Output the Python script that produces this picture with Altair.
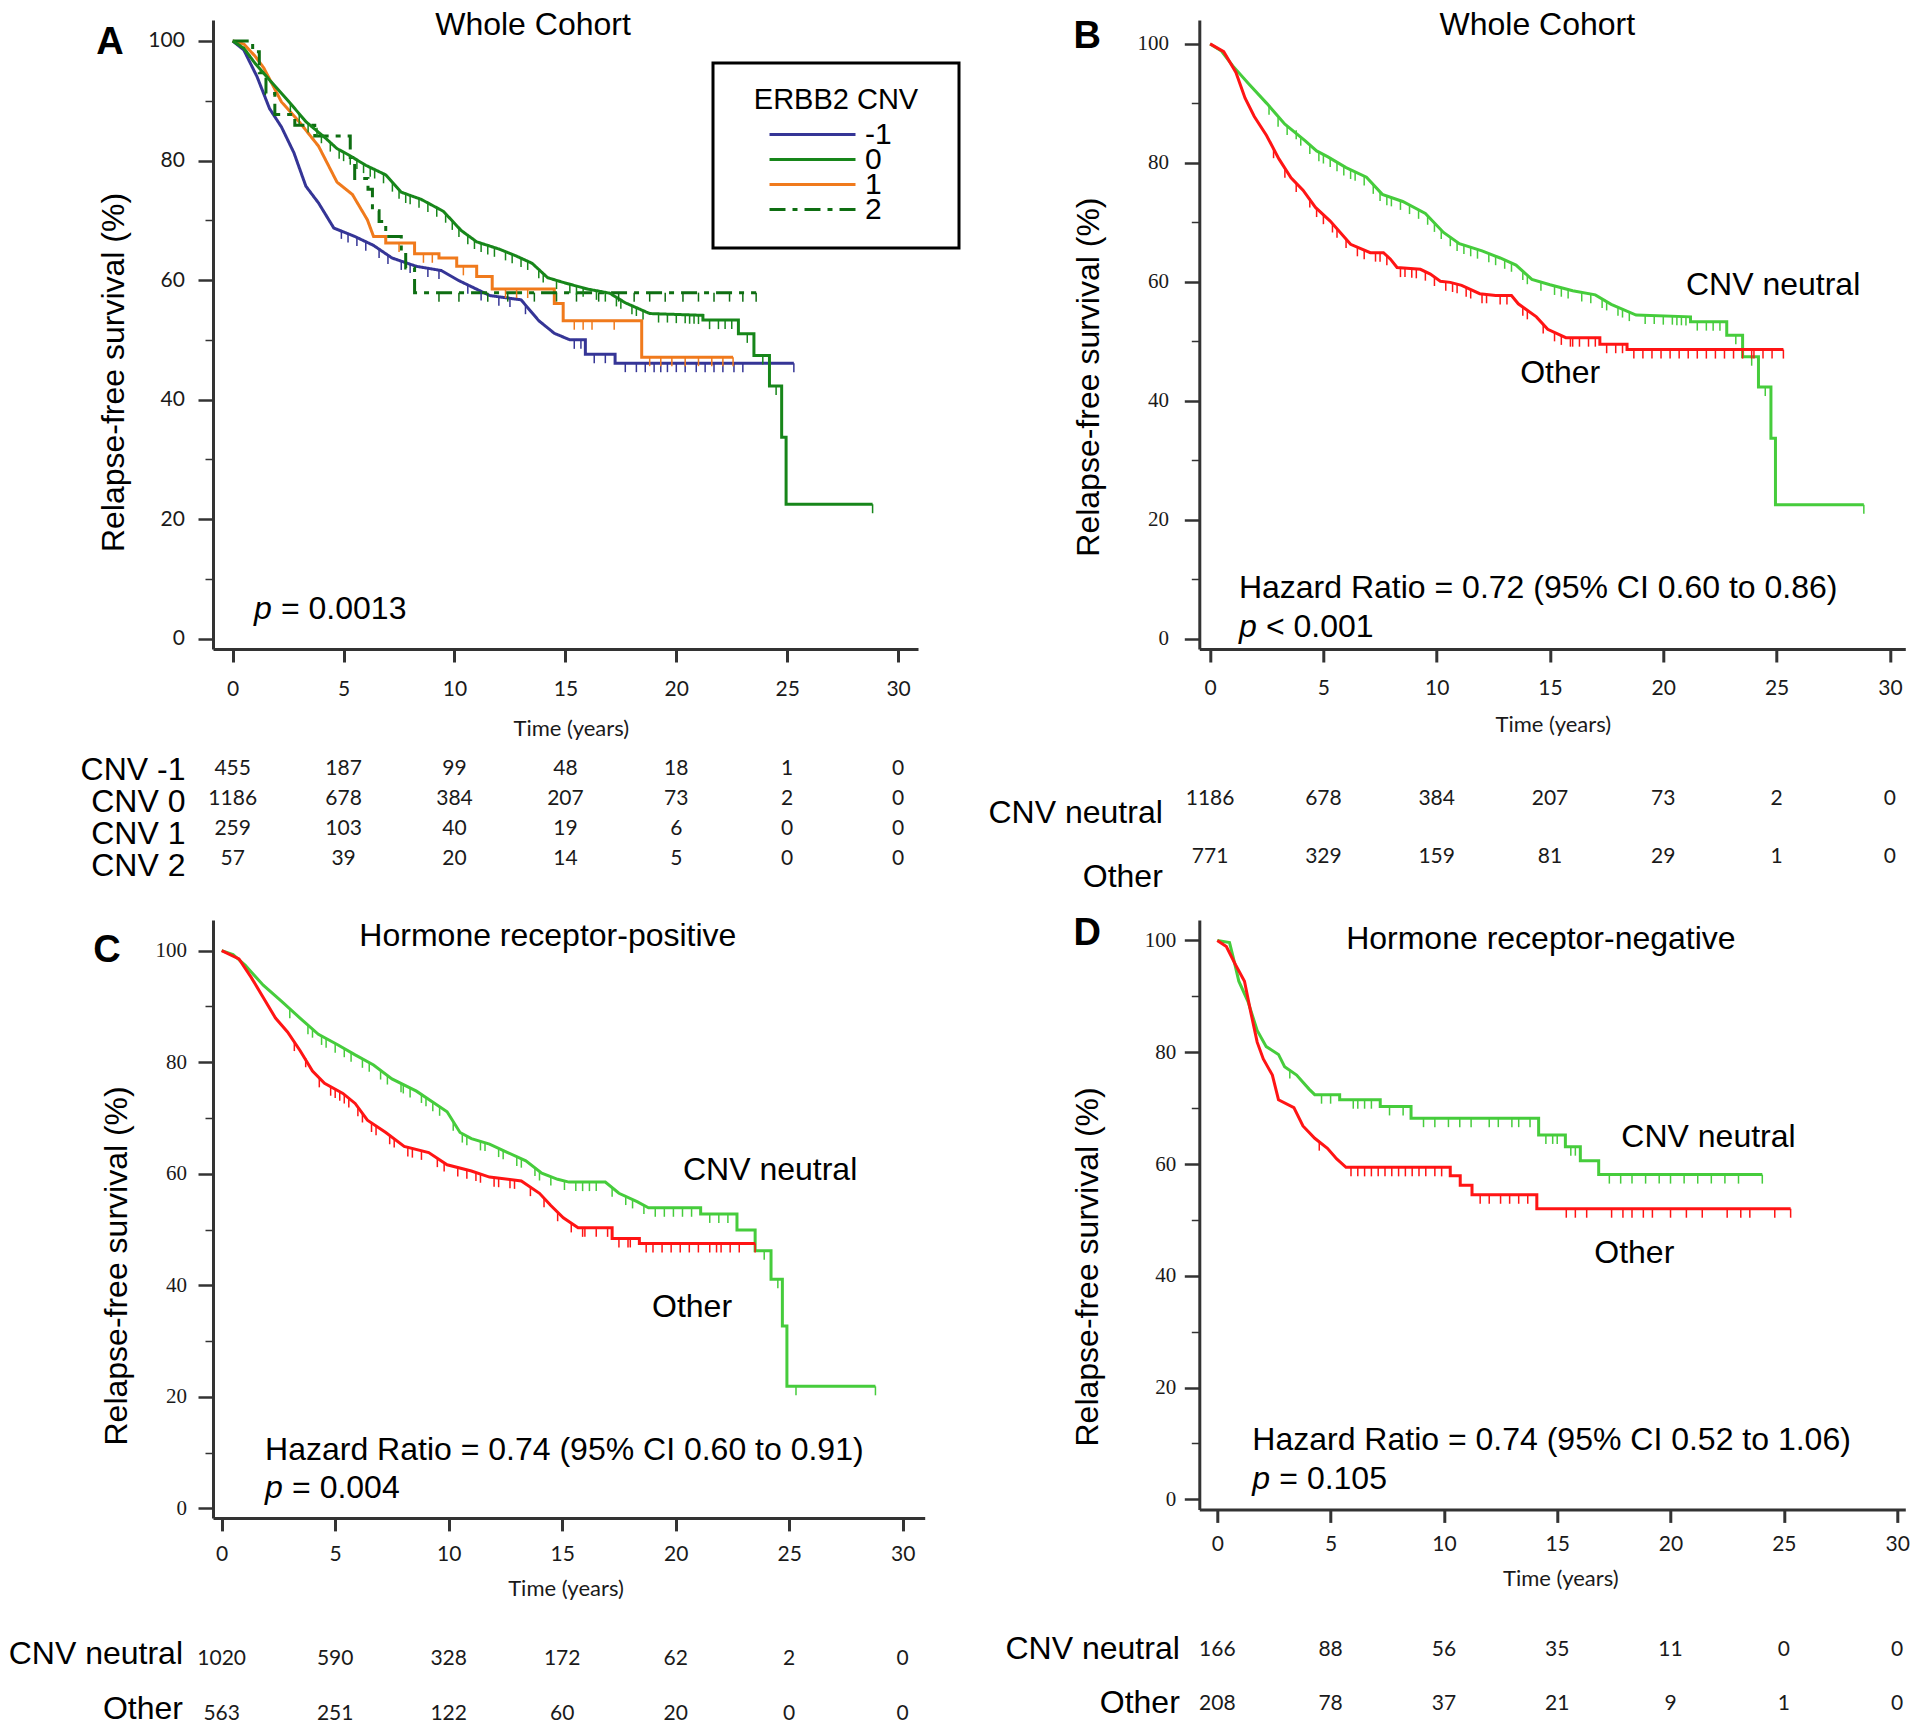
import altair as alt
import pandas as pd

SANS = "Liberation Sans, Arial, sans-serif"
NUM = "Lato, Liberation Sans, sans-serif"
SERIF = "Liberation Serif, Times New Roman, serif"
BLANK = "\u2800"

# ---------------- survival curve vertices (time in years, survival %) ----------------
W_NEU_T = [0, 0.5, 1.0, 1.7, 2.5, 3.3, 4.2, 4.7, 5.2, 6.0, 6.9, 7.6, 8.5, 9.5, 10.3, 11.0, 12.0, 12.8,
           13.5, 14.2, 15.0, 16.0, 17.0, 17.7, 18.8, 21.2, 21.2, 22.8, 22.8, 23.5, 23.5, 24.2, 24.2,
           24.75, 24.75, 24.95, 24.95, 28.85]
W_NEU_S = [100, 98.8, 96.3, 93.3, 90.0, 86.5, 83.7, 82.0, 81.0, 79.2, 77.6, 74.7, 73.5, 71.5, 68.3, 66.4,
           65.2, 64.0, 62.8, 60.4, 59.5, 58.5, 57.8, 56.2, 54.4, 54.1, 53.3, 53.3, 51.0, 51.0, 47.4, 47.4,
           42.3, 42.3, 33.7, 33.7, 22.5, 22.5]
W_NEG1_T = [0, 0.5, 1.1, 1.66, 2.2, 2.76, 3.3, 3.87, 4.56, 5.5, 6.35, 7.18, 8.28, 9.4, 10.2, 11.6, 13.0,
            13.8, 14.5, 15.2, 15.9, 15.9, 17.24, 17.24, 25.3]
W_NEG1_S = [100, 98.5, 94.0, 88.7, 85.6, 81.3, 75.7, 72.9, 68.7, 67.3, 65.8, 63.7, 62.3, 61.6, 59.9, 57.4,
            56.7, 53.2, 51.1, 50.0, 50.0, 47.6, 47.6, 46.1, 46.1]
W_AMP1_T = [0, 0.5, 1.0, 1.4, 2.2, 3.04, 3.87, 4.7, 5.4, 6.07, 6.35, 6.9, 6.9, 8.2, 8.2, 9.3, 9.3, 10.1,
            10.1, 11.0, 11.0, 11.7, 11.7, 14.5, 14.5, 14.9, 14.9, 18.44, 18.44, 22.56]
W_AMP1_S = [100, 99.5, 97.5, 95.5, 89.8, 86.3, 82.4, 76.4, 74.3, 70.1, 67.3, 67.3, 66.2, 66.2, 64.4, 64.4,
            63.7, 63.7, 62.3, 62.3, 60.6, 60.6, 58.5, 58.5, 56.1, 56.1, 53.2, 53.2, 47.1, 47.1]
W_AMP2_T = [0, 0.9, 0.9, 1.2, 1.2, 1.5, 1.5, 1.9, 1.9, 2.8, 2.8, 3.7, 3.7, 5.3, 5.3, 5.5, 5.5, 6.1, 6.1,
            6.3, 6.3, 6.6, 6.6, 6.9, 6.9, 7.6, 7.6, 7.8, 7.8, 8.2, 8.2, 23.6]
W_AMP2_S = [100, 100, 98.2, 98.2, 94.7, 94.7, 91.2, 91.2, 87.7, 87.7, 85.9, 85.9, 84.1, 84.1, 80.5, 80.5,
            77.0, 77.0, 75.2, 75.2, 71.6, 71.6, 69.8, 69.8, 67.3, 67.3, 64.8, 64.8, 62.0, 62.0, 57.9, 57.9]
W_OTH_T = [0, 0.6, 1.14, 1.54, 1.95, 2.49, 3.03, 3.57, 4.1, 4.65, 5.3, 6.2, 7.07, 7.65, 7.96, 8.25, 9.28,
           9.72, 10.16, 10.6, 11.1, 11.9, 12.6, 13.3, 13.6, 14.4, 14.9, 15.7, 17.2, 17.2, 18.4, 18.4, 25.3]
W_OTH_S = [100, 98.7, 95.2, 90.9, 87.8, 84.6, 80.7, 77.5, 75.4, 72.5, 70.2, 66.3, 64.9, 64.9, 63.8, 62.4,
           62.1, 61.3, 60.1, 59.9, 59.4, 58.0, 57.7, 57.7, 56.3, 54.1, 52.0, 50.6, 50.6, 49.5, 49.5, 48.6, 48.6]
P_NEU_T = [0, 0.5, 1.03, 1.83, 2.64, 3.45, 4.26, 5.07, 5.88, 6.69, 7.5, 8.58, 9.39, 9.93, 10.5, 11.0, 11.8,
           12.6, 13.4, 14.1, 14.8, 15.3, 16.9, 17.5, 18.3, 18.8, 21.1, 21.1, 22.7, 22.7, 23.5, 23.5, 24.2,
           24.2, 24.7, 24.7, 24.9, 24.9, 28.8]
P_NEU_S = [100, 99.3, 97.4, 93.8, 90.9, 87.9, 85.0, 83.2, 81.3, 79.5, 77.0, 74.8, 72.6, 71.1, 67.4, 66.3,
           65.3, 63.8, 62.3, 60.1, 59.0, 58.5, 58.5, 56.5, 55.0, 53.9, 53.9, 52.8, 52.8, 49.9, 49.9, 46.2,
           46.2, 41.1, 41.1, 32.7, 32.7, 21.9, 21.9]
P_OTH_T = [0, 0.76, 1.3, 1.83, 2.37, 2.9, 3.45, 4.0, 4.53, 5.34, 5.88, 6.42, 7.23, 8.04, 9.12, 9.93, 11.0,
           11.8, 13.2, 14.0, 14.5, 15.05, 15.7, 17.2, 17.2, 18.4, 18.4, 23.5]
P_OTH_S = [100, 98.5, 95.2, 91.6, 87.9, 85.4, 82.1, 78.4, 76.2, 74.4, 72.6, 69.6, 67.4, 64.9, 63.8, 61.6,
           60.5, 59.4, 58.7, 56.5, 54.3, 52.1, 50.3, 50.3, 48.4, 48.4, 47.5, 47.5]
N_NEU_T = [0, 0.54, 0.7, 0.95, 1.35, 1.76, 2.16, 2.7, 2.97, 3.5, 4.05, 4.3, 5.4, 5.4, 7.19, 7.19, 8.55,
           8.55, 14.18, 14.18, 15.36, 15.36, 16.02, 16.02, 16.83, 16.83, 24.05]
N_NEU_S = [100, 99.6, 97.0, 92.7, 89.1, 83.9, 81.0, 79.6, 77.4, 75.9, 73.4, 72.4, 72.4, 71.5, 71.5, 70.3,
           70.3, 68.2, 68.2, 65.2, 65.2, 63.1, 63.1, 60.6, 60.6, 58.1, 58.1]
N_OTH_T = [0, 0.4, 0.81, 1.2, 1.49, 1.76, 2.03, 2.43, 2.7, 3.38, 3.78, 4.3, 4.86, 5.27, 5.68, 10.28, 10.28,
           10.72, 10.72, 11.24, 11.24, 14.1, 14.1, 25.3]
N_OTH_S = [100, 98.9, 95.6, 92.7, 86.9, 81.8, 78.8, 75.9, 71.5, 70.1, 66.8, 64.6, 62.8, 60.9, 59.4, 59.4,
           57.9, 57.9, 56.2, 56.2, 54.5, 54.5, 52.0, 52.0]

# ---------------- censoring marks (time, survival %) ----------------
CW_NEU_T = [2.6, 3.0, 3.4, 3.8, 4.0, 4.4, 4.8, 5.0, 5.3, 5.6, 5.9, 6.2, 6.4, 6.8, 7.2, 7.5, 7.8, 8.0, 8.4,
            8.8, 9.2, 9.6, 9.9, 10.2, 10.6, 10.9, 11.2, 11.5, 11.8, 12.3, 12.6, 13.0, 13.3, 13.8, 14.0,
            14.6, 15.2, 15.5, 15.8, 16.4, 16.8, 17.3, 17.5, 18.0, 18.2, 18.5, 19.2, 19.6, 20.0, 20.4, 20.6,
            20.8, 21.0, 21.5, 21.9, 22.2, 22.5, 23.2, 23.9, 24.5, 28.85]
CW_NEU_S = [89.6, 87.6, 86.2, 85.5, 84.4, 83.0, 81.8, 81.4, 80.8, 80.1, 79.4, 78.8, 78.5, 77.7, 76.3, 75.1,
            74.4, 74.2, 73.6, 72.9, 72.1, 71.1, 69.9, 68.7, 67.5, 66.7, 66.2, 65.8, 65.4, 64.8, 64.3, 63.7,
            63.2, 61.8, 61.1, 60.0, 59.3, 59.0, 58.7, 58.2, 57.9, 57.1, 56.7, 55.8, 55.5, 54.9, 54.4, 54.4,
            54.3, 54.3, 54.2, 54.2, 54.15, 53.3, 53.3, 53.3, 53.3, 51.0, 47.4, 42.3, 22.5]
CW_NEG1_T = [4.9, 5.2, 5.6, 6.0, 6.6, 7.0, 7.6, 8.0, 8.8, 9.3, 10.6, 11.2, 12.0, 12.5, 13.2, 15.4, 15.7,
             16.3, 16.8, 17.7, 18.2, 18.6, 19.0, 19.3, 19.6, 20.0, 20.4, 20.9, 21.3, 21.7, 22.1, 22.6, 23.0,
             25.3]
CW_NEG1_S = [68.4, 67.8, 67.2, 66.4, 65.2, 64.2, 63.2, 62.7, 62.0, 61.7, 59.2, 58.1, 57.2, 57.0, 55.8, 50.0,
             50.0, 47.6, 47.6, 46.1, 46.1, 46.1, 46.1, 46.1, 46.1, 46.1, 46.1, 46.1, 46.1, 46.1, 46.1, 46.1,
             46.1, 46.1]
CW_AMP1_T = [7.5, 8.6, 9.0, 10.4, 12.3, 12.8, 13.3, 15.4, 15.8, 16.2, 17.2, 18.8, 19.3, 19.8, 20.4, 21.0,
             21.6, 22.1, 22.56]
CW_AMP1_S = [66.2, 64.4, 64.4, 62.3, 58.5, 58.5, 58.5, 53.2, 53.2, 53.2, 53.2, 47.1, 47.1, 47.1, 47.1, 47.1,
             47.1, 47.1, 47.1]
CW_AMP2_T = [9.3, 10.2, 11.5, 12.4, 13.6, 14.6, 15.5, 16.5, 17.4, 18.1, 18.8, 19.5, 20.3, 21.0, 21.7, 22.4,
             23.0, 23.6]
CW_AMP2_S = [57.9] * 18
CW_OTH_T = [2.8, 3.3, 3.8, 4.4, 4.7, 5.0, 5.4, 5.6, 6.0, 6.5, 6.8, 7.3, 7.5, 7.8, 8.4, 8.6, 8.9, 9.1, 9.5,
            9.9, 10.4, 10.7, 10.9, 11.3, 11.5, 12.0, 12.2, 12.8, 13.1, 13.8, 14.0, 14.7, 15.2, 15.5, 15.9,
            16.0, 16.3, 16.7, 17.0, 17.5, 17.9, 18.2, 18.7, 19.1, 19.5, 19.9, 20.3, 20.7, 21.1, 21.5, 21.9,
            22.3, 22.7, 23.1, 23.5, 23.9, 24.0, 24.4, 24.8, 25.3]
CW_OTH_S = [82.3, 79.0, 76.6, 74.0, 72.4, 71.2, 69.8, 68.9, 67.2, 65.8, 65.3, 64.9, 64.9, 64.3, 62.3, 62.3,
            62.2, 62.1, 61.7, 60.8, 60.0, 59.8, 59.6, 59.0, 58.7, 57.9, 57.9, 57.7, 57.7, 55.8, 55.2, 52.8,
            51.5, 50.9, 50.6, 50.6, 50.6, 50.6, 50.6, 49.5, 49.5, 49.5, 48.6, 48.6, 48.6, 48.6, 48.6, 48.6,
            48.6, 48.6, 48.6, 48.6, 48.6, 48.6, 48.6, 48.6, 48.6, 48.6, 48.6, 48.6]
CP_NEU_T = [3.0, 3.8, 4.0, 4.4, 4.6, 5.0, 5.4, 5.7, 6.2, 6.5, 7.0, 7.3, 7.9, 8.0, 8.3, 8.8, 9.0, 9.3, 9.6,
            10.2, 10.6, 10.8, 11.4, 11.6, 12.2, 12.4, 13.0, 13.2, 13.8, 14.0, 14.5, 15.1, 15.6, 15.9, 16.2,
            16.5, 17.2, 17.8, 18.1, 18.6, 19.1, 19.5, 19.9, 20.3, 20.7, 21.5, 21.9, 22.3, 23.9, 24.5, 25.3,
            28.8]
CP_NEU_S = [89.5, 86.6, 86.0, 84.7, 84.2, 83.3, 82.5, 81.7, 80.6, 79.9, 78.5, 77.6, 76.2, 76.0, 75.3, 74.3,
            73.7, 72.8, 72.0, 69.3, 67.2, 66.7, 65.8, 65.7, 64.6, 64.2, 63.0, 62.7, 61.2, 60.4, 59.5, 58.7,
            58.5, 58.5, 58.5, 58.5, 57.5, 56.0, 55.4, 54.4, 53.9, 53.9, 53.9, 53.9, 53.9, 52.8, 52.8, 52.8,
            46.2, 41.1, 21.9, 21.9]
CP_OTH_T = [3.2, 3.7, 4.3, 4.8, 5.0, 5.2, 5.4, 5.6, 6.0, 6.2, 6.6, 6.8, 7.4, 7.6, 8.2, 8.4, 8.8, 9.5, 9.8,
            10.4, 10.8, 11.2, 11.4, 12.0, 12.2, 12.7, 12.9, 13.6, 14.2, 14.8, 15.4, 15.9, 16.0, 16.5, 17.0,
            17.5, 17.9, 18.0, 18.7, 19.0, 19.4, 19.8, 20.2, 20.6, 21.0, 21.5, 21.8, 22.0, 22.4, 22.8, 23.5]
CP_OTH_S = [83.6, 80.7, 77.1, 75.6, 75.2, 74.7, 74.2, 73.5, 71.9, 70.8, 69.1, 68.5, 66.9, 66.3, 64.7, 64.5,
            64.1, 62.8, 62.0, 61.1, 60.7, 60.3, 60.0, 59.3, 59.2, 59.0, 58.9, 57.6, 55.6, 53.1, 51.1, 50.3,
            50.3, 50.3, 50.3, 48.4, 48.4, 48.4, 47.5, 47.5, 47.5, 47.5, 47.5, 47.5, 47.5, 47.5, 47.5, 47.5,
            47.5, 47.5, 47.5]
CN_NEU_T = [3.2, 4.6, 5.0, 6.0, 6.2, 6.5, 6.8, 7.6, 8.2, 9.1, 9.6, 10.2, 10.7, 11.2, 12.0, 12.4, 13.0, 13.3,
            13.8, 14.5, 14.8, 15.0, 15.6, 15.8, 17.3, 17.8, 18.3, 18.9, 19.5, 20.0, 20.6, 21.2, 21.8, 22.4,
            23.0, 24.05]
CN_NEU_S = [76.9, 72.4, 72.4, 71.5, 71.5, 71.5, 71.5, 70.3, 70.3, 68.2, 68.2, 68.2, 68.2, 68.2, 68.2, 68.2,
            68.2, 68.2, 68.2, 65.2, 65.2, 65.2, 63.1, 63.1, 58.1, 58.1, 58.1, 58.1, 58.1, 58.1, 58.1, 58.1,
            58.1, 58.1, 58.1, 58.1]
CN_OTH_T = [4.5, 5.9, 6.2, 6.5, 6.8, 7.1, 7.4, 7.7, 8.0, 8.3, 8.6, 8.9, 9.2, 9.6, 9.9, 11.6, 12.0, 12.5,
            12.9, 13.3, 13.7, 15.4, 15.8, 16.3, 17.4, 17.9, 18.3, 18.8, 19.2, 20.0, 20.7, 21.4, 22.5, 23.1,
            23.5, 24.6, 25.3]
CN_OTH_S = [64.0] + [59.4] * 14 + [54.5] * 6 + [52.0] * 16

# ---------------- numbers at risk ----------------
RISK_T = [0, 5, 10, 15, 20, 25, 30]
A_ROWS = ["CNV -1", "CNV 0", "CNV 1", "CNV 2"]
A_RISK = [[455, 187, 99, 48, 18, 1, 0], [1186, 678, 384, 207, 73, 2, 0],
          [259, 103, 40, 19, 6, 0, 0], [57, 39, 20, 14, 5, 0, 0]]
HR_ROWS = ["CNV neutral", "Other"]
B_RISK = [[1186, 678, 384, 207, 73, 2, 0], [771, 329, 159, 81, 29, 1, 0]]
C_RISK = [[1020, 590, 328, 172, 62, 2, 0], [563, 251, 122, 60, 20, 0, 0]]
D_RISK = [[166, 88, 56, 35, 11, 0, 0], [208, 78, 37, 21, 9, 1, 0]]

A_GROUPS = ["-1", "0", "1", "2"]
A_COLORS = ["#353596", "#17861a", "#f07a1c", "#0e6e12"]
A_DASH = [[1, 0], [1, 0], [1, 0], [16, 7, 5, 7]]
HR_COLORS = ["#46cc3c", "#ff1414"]

TICKS_X = [0, 5, 10, 15, 20, 25, 30]
TICKS_Y = list(range(0, 101, 10))


def curve_df(curves):
    rows = []
    for g, ts, ss in curves:
        for i, (t, s) in enumerate(zip(ts, ss)):
            rows.append({"grp": g, "t": t, "s": s, "i": i})
    return pd.DataFrame(rows)


def cens_df(cens):
    rows = []
    for g, ts, ss in cens:
        for t, s in zip(ts, ss):
            rows.append({"grp": g, "t": t, "s": s})
    return pd.DataFrame(rows)


def km_chart(p):
    xs = alt.Scale(domain=p["xdom"], nice=False, zero=False)
    ys = alt.Scale(domain=p["ydom"], nice=False, zero=False)
    minor = "datum.value % 20 != 0"
    xaxis = alt.Axis(values=TICKS_X, title="Time (years)", labelFont=NUM, labelFontSize=21,
                     labelPadding=p["xlp"], labelFlush=False, tickSize=13, tickWidth=3, domainWidth=3,
                     titleFont=NUM, titleFontSize=22, titleFontWeight="normal", titleX=p["xtx"],
                     titleY=p["xty"], titleAlign="center", titleBaseline="middle", titleAngle=0,
                     labelColor="#1a1a1a", titleColor="#1a1a1a", grid=False)
    yaxis = alt.Axis(values=TICKS_Y, labelExpr="datum.value % 20 == 0 ? datum.label : ''",
                     tickSize={"condition": {"test": minor, "value": 8}, "value": 15},
                     tickWidth={"condition": {"test": minor, "value": 1.5}, "value": 2.5},
                     labelFont=p["yfont"], labelFontSize=21, labelPadding=p["ylp"], domainWidth=3,
                     title="Relapse-free survival (%)", titleFont=SANS, titleFontSize=32,
                     titleFontWeight="normal", titleAngle=270, titleX=p["ytx"], titleY=p["yty"],
                     titleAlign="center", titleBaseline="middle", labelColor="#1a1a1a",
                     titleColor="black", grid=False)
    cscale = alt.Scale(domain=p["groups"], range=p["colors"])
    enc = dict(
        x=alt.X("t:Q", scale=xs, axis=xaxis),
        y=alt.Y("s:Q", scale=ys, axis=yaxis),
        order=alt.Order("i:Q"),
    )
    if p.get("legend") is not None:
        enc["color"] = alt.Color("grp:N", scale=cscale, legend=p["legend"])
        enc["strokeDash"] = alt.StrokeDash("grp:N", scale=alt.Scale(domain=p["groups"], range=A_DASH),
                                           legend=p["legend"])
    else:
        enc["color"] = alt.Color("grp:N", scale=cscale, legend=None)
    lines = alt.Chart(curve_df(p["curves"])).mark_line(strokeWidth=3).encode(**enc)
    ticks = alt.Chart(cens_df(p["cens"])).mark_tick(
        orient="vertical", size=9, thickness=1.5, yOffset=4.5, opacity=1
    ).encode(
        x=alt.X("t:Q", scale=xs), y=alt.Y("s:Q", scale=ys),
        fill=alt.Fill("grp:N", scale=alt.Scale(domain=p["groups"], range=p["colors"]), legend=None),
    )
    layers = [lines, ticks]
    for items, mk in p["texts"]:
        df = pd.DataFrame(items, columns=["t", "s", "label"])
        layers.append(
            alt.Chart(df).mark_text(color="black", **mk).encode(
                x=alt.X("t:Q", scale=xs), y=alt.Y("s:Q", scale=ys), text="label:N"
            )
        )
    return alt.layer(*layers).properties(width=p["w"], height=p["h"])


def table_chart(p):
    xs = alt.Scale(domain=p["xdom"], nice=False, zero=False)
    trows = []
    for r, ns in zip(p["rows"], p["risk"]):
        for t, n in zip(RISK_T, ns):
            trows.append({"row": r, "t": t, "n": str(n)})
    return alt.Chart(pd.DataFrame(trows)).mark_text(font=NUM, fontSize=21, color="#1a1a1a").encode(
        x=alt.X("t:Q", scale=xs, axis=None),
        y=alt.Y("row:N", sort=p["rows"],
                scale=alt.Scale(type="point", domain=p["rows"], range=p["trange"], padding=0),
                axis=alt.Axis(title=None, domain=False, ticks=False, tickSize=0, labelFont=SANS,
                              labelFontSize=32, labelPadding=p["tlp"], labelOffset=p["tlo"],
                              labelLimit=600, labelColor="black", grid=False)),
        text="n:N",
    ).properties(width=p["w"], height=p["th"])


T_TITLE = dict(font=SANS, fontSize=32)
T_LETTER = dict(font=SANS, fontSize=38, fontWeight="bold")
T_LEFT = dict(font=SANS, fontSize=32, align="left")
T_P = dict(font=SANS, fontSize=32, align="left", fontStyle="italic")
T_PREST = dict(font=SANS, fontSize=32, align="left", dx=27)

legendA = alt.Legend(
    title="ERBB2 CNV", orient="none", legendX=500, legendY=43,
    direction="vertical", padding=23, strokeColor="black", fillColor="white",
    titleFont=SANS, titleFontSize=29, titleFontWeight="normal", titleColor="black",
    titleAnchor="middle", titlePadding=10, titleLimit=600,
    labelFont=SANS, labelFontSize=30, labelColor="black", labelLimit=600,
    labelExpr="datum.label + '" + BLANK * 2 + "'",
    symbolType="stroke", symbolSize=7396, symbolStrokeWidth=3, symbolOffset=32,
    labelOffset=8, rowPadding=-11, clipHeight=19,
)

PA = dict(
    xdom=[-0.888, 30.897], w=705, ydom=[-1.72, 103.51], h=629,
    xlp=16.5, xtx=357.8, xty=79, ylp=13.6, ytx=-100, yty=352, yfont=NUM,
    groups=A_GROUPS, colors=A_COLORS, legend=legendA,
    curves=[("-1", W_NEG1_T, W_NEG1_S), ("1", W_AMP1_T, W_AMP1_S), ("2", W_AMP2_T, W_AMP2_S),
            ("0", W_NEU_T, W_NEU_S)],
    cens=[("-1", CW_NEG1_T, CW_NEG1_S), ("1", CW_AMP1_T, CW_AMP1_S), ("2", CW_AMP2_T, CW_AMP2_S),
          ("0", CW_NEU_T, CW_NEU_S)],
    texts=[([(13.54, 102.68, "Whole Cohort")], T_TITLE),
           ([(-5.53, 99.67, "A")], T_LETTER),
           ([(0.96, 4.97, "p")], T_P),
           ([(0.96, 4.97, "= 0.0013")], T_PREST)],
    rows=A_ROWS, risk=A_RISK, th=270.6, trange=[119.7, 210.3], tlp=28,
    tlo={"condition": [{"test": "datum.value == 'CNV -1'", "value": 1},
                       {"test": "datum.value == 'CNV 0'", "value": 3},
                       {"test": "datum.value == 'CNV 2'", "value": 6}], "value": 4},
)
PB = dict(
    xdom=[-0.477, 30.68], w=706, ydom=[-1.749, 104.02], h=629,
    xlp=15, xtx=353.5, xty=75.3, ylp=15.8, ytx=-110.4, yty=356.6, yfont=SERIF,
    groups=HR_ROWS, colors=HR_COLORS, legend=None,
    curves=[("CNV neutral", W_NEU_T, W_NEU_S), ("Other", W_OTH_T, W_OTH_S)],
    cens=[("CNV neutral", CW_NEU_T, CW_NEU_S), ("Other", CW_OTH_T, CW_OTH_S)],
    texts=[([(14.44, 103.18, "Whole Cohort")], T_TITLE),
           ([(-5.42, 101.16, "B")], T_LETTER),
           ([(21.0, 59.46, "CNV neutral"), (1.27, 8.51, "Hazard Ratio = 0.72 (95% CI 0.60 to 0.86)")], T_LEFT),
           ([(15.45, 44.58, "Other")], T_TITLE),
           ([(1.27, 1.95, "p")], T_P),
           ([(1.27, 1.95, "< 0.001")], T_PREST)],
    rows=HR_ROWS, risk=B_RISK, th=270.6, trange=[150.3, 208], tlp=37,
    tlo={"condition": {"test": "datum.value == 'Other'", "value": 19}, "value": 13.5},
)
PC = dict(
    xdom=[-0.383, 30.97], w=711.7, ydom=[-1.685, 105.48], h=597.9,
    xlp=13, xtx=352.5, xty=70.8, ylp=11.4, ytx=-97, yty=345.4, yfont=SERIF,
    groups=HR_ROWS, colors=HR_COLORS, legend=None,
    curves=[("CNV neutral", P_NEU_T, P_NEU_S), ("Other", P_OTH_T, P_OTH_S)],
    cens=[("CNV neutral", CP_NEU_T, CP_NEU_S), ("Other", CP_OTH_T, CP_OTH_S)],
    texts=[([(14.37, 102.55, "Hormone receptor-positive")], T_TITLE),
           ([(-5.05, 100.0, "C")], T_LETTER),
           ([(20.32, 60.64, "CNV neutral"), (1.91, 10.41, "Hazard Ratio = 0.74 (95% CI 0.60 to 0.91)")], T_LEFT),
           ([(20.72, 36.13, "Other")], T_TITLE),
           ([(1.91, 3.6, "p")], T_P),
           ([(1.91, 3.6, "= 0.004")], T_PREST)],
    rows=HR_ROWS, risk=C_RISK, th=185, trange=[140.5, 195.5], tlp=30.5, tlo=-5.5,
)
PD = dict(
    xdom=[-0.794, 30.36], w=706, ydom=[-1.789, 103.65], h=589.4,
    xlp=11.5, xtx=361, xty=69.3, ylp=8.5, ytx=-112, yty=346.4, yfont=SERIF,
    groups=HR_ROWS, colors=HR_COLORS, legend=None,
    curves=[("CNV neutral", N_NEU_T, N_NEU_S), ("Other", N_OTH_T, N_OTH_S)],
    cens=[("CNV neutral", CN_NEU_T, CN_NEU_S), ("Other", CN_OTH_T, CN_OTH_S)],
    texts=[([(14.28, 100.18, "Hormone receptor-negative")], T_TITLE),
           ([(-5.74, 101.07, "D")], T_LETTER),
           ([(17.83, 64.76, "CNV neutral"), (1.545, 10.55, "Hazard Ratio = 0.74 (95% CI 0.52 to 1.06)")], T_LEFT),
           ([(18.4, 44.0, "Other")], T_TITLE),
           ([(1.545, 3.58, "p")], T_P),
           ([(1.545, 3.58, "= 0.105")], T_PREST)],
    rows=HR_ROWS, risk=D_RISK, th=185, trange=[131.5, 185.5], tlp=20, tlo=-1.5,
)

cells = [km_chart(PA), km_chart(PB), table_chart(PA), table_chart(PB),
         km_chart(PC), km_chart(PD), table_chart(PC), table_chart(PD)]
chart = (
    alt.concat(*cells, columns=2, spacing={"row": 0, "column": 274.3}, bounds="flush", align="each")
    .resolve_scale(x="independent", y="independent", color="independent", fill="independent",
                   strokeDash="independent")
    .properties(padding=0, background="white")
    .configure_view(stroke=None)
    .configure_axis(domainColor="#333333", tickColor="#333333")
    .configure_legend(strokeWidth=3)
)
chart.save("out.html", embed_options={"renderer": "svg", "actions": False})
